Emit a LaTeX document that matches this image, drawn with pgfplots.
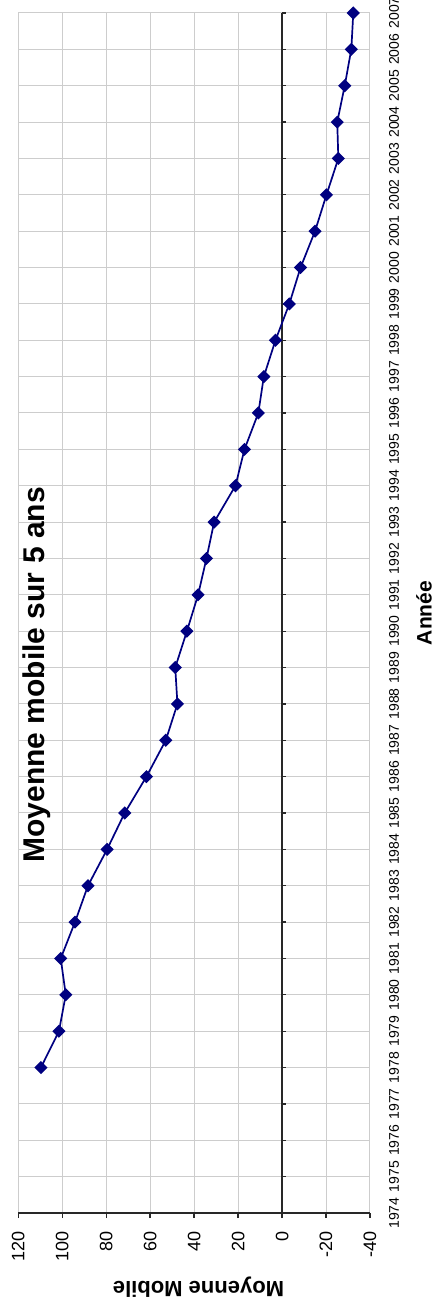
\documentclass[border=0pt]{standalone}
\usepackage{fontspec}
\setmainfont{Liberation Sans}
\usepackage{pgfplots}
\usepackage{pgfplotstable}
\pgfplotsset{compat=1.18}
\definecolor{navy}{RGB}{0,0,128}
\definecolor{gridc}{RGB}{205,205,205}
\definecolor{axc}{RGB}{40,40,40}
\pgfplotstableread{
year value
1978 109.7
1979 101.5
1980 98.4
1981 100.7
1982 94.2
1983 88.3
1984 79.6
1985 71.6
1986 61.7
1987 52.9
1988 47.6
1989 48.6
1990 43.3
1991 38.2
1992 34.4
1993 30.9
1994 21.2
1995 17.1
1996 10.8
1997 8.3
1998 3.0
1999 -3.3
2000 -8.4
2001 -15.0
2002 -20.2
2003 -25.6
2004 -25.1
2005 -28.5
2006 -31.5
2007 -32.4
}\datatable
\begin{document}
\begin{tikzpicture}
\useasboundingbox (-9.15pt,-47.5pt) rectangle (208.85pt,606.5pt);
\clip (-9.15pt,-47.5pt) rectangle (208.85pt,606.5pt);
\begin{axis}[
  at={(0,0)}, anchor=south west,
  scale only axis, width=175.85pt, height=600pt,
  x dir=reverse, xmin=-40, xmax=120, ymin=0, ymax=33,
  xtick={-40,-20,...,120}, ytick={0,...,33},
  yticklabels={1974,1975,1976,1977,1978,1979,1980,1981,1982,1983,1984,1985,1986,1987,1988,1989,1990,1991,1992,1993,1994,1995,1996,1997,1998,1999,2000,2001,2002,2003,2004,2005,2006,2007},
  grid=major, grid style={gridc, line width=0.5pt},
  axis line style={gridc, line width=0.5pt},
  xtick pos=bottom, tick align=outside, major tick length=2.5pt,
  x tick style={axc, line width=0.7pt},
  ytick style={draw=none},
  yticklabel pos=right,
  /pgf/number format/assume math mode=true,
  x tick label style={yshift=-3pt, rotate=90, anchor=east, font=\fontsize{9}{9}\selectfont},
  y tick label style={xshift=3.5pt, rotate=90, anchor=north, font=\fontsize{7}{7}\selectfont},
  clip=false,
]
\draw[axc, line width=0.75pt] (axis cs:120,0) -- (axis cs:-40,0);
\draw[axc, line width=0.75pt] (axis cs:0,0) -- (axis cs:0,33);
\pgfplotsinvokeforeach{0,...,33}{\draw[axc, line width=0.6pt] (axis cs:0,#1) -- ([xshift=2pt]axis cs:0,#1);}
\addplot[navy, line width=0.85pt, mark=square*, mark size=1.9pt, mark options={rotate=45, fill=navy, draw=navy}]
  table[x=value, y expr=\thisrow{year}-1974] {\datatable};
\node[rotate=90, font=\bfseries\fontsize{15}{15}\selectfont] at (axis cs:111.5,14.8) {Moyenne mobile sur 5 ans};
\node[rotate=90, font=\bfseries\fontsize{10.5}{10.5}\selectfont] at ([xshift=27pt]axis cs:-40,16.5) {Année};
\node[rotate=180, font=\bfseries\fontsize{11}{11}\selectfont] at ([yshift=-37pt]axis cs:38,0) {Moyenne Mobile};
\end{axis}
\end{tikzpicture}
\end{document}
